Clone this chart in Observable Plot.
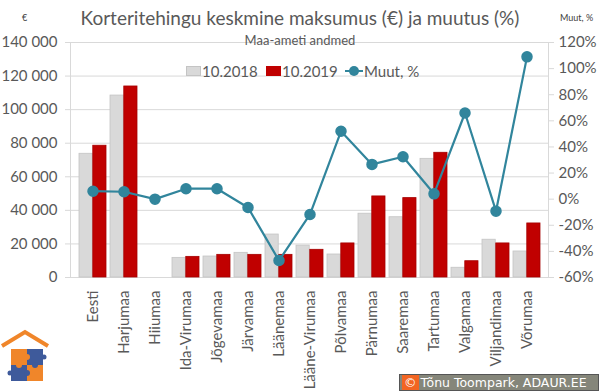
<!DOCTYPE html>
<html>
<head>
<meta charset="utf-8">
<script src="https://cdn.jsdelivr.net/npm/d3@7"></script>
<script src="https://cdn.jsdelivr.net/npm/@observablehq/plot@0.6"></script>
<style>
  html, body { margin: 0; padding: 0; background: #fff; }
  #wrap { position: relative; width: 600px; height: 392px; overflow: hidden; font-family: Lato, "Open Sans", sans-serif; color: #595959; }
  .abs { position: absolute; white-space: nowrap; }
  #wrap svg { position: absolute; left: 0; top: 0; }
</style>
</head>
<body>
<div id="wrap"></div>
<script>
const categories = ["Eesti","Harjumaa","Hiiumaa","Ida-Virumaa","Jõgevamaa","Järvamaa","Läänemaa","Lääne-Virumaa","Põlvamaa","Pärnumaa","Saaremaa","Tartumaa","Valgamaa","Viljandimaa","Võrumaa"];
const price2018 = [73700,108400,null,11700,12500,14700,25600,19000,13700,38000,35900,70700,5800,22500,15500];
const price2019 = [78500,113800,null,12300,13500,13500,13500,16500,20300,48300,47300,74300,9700,20300,32200];
const changePct = [6.1,5.7,0,8,8,-6.4,-47,-11.7,52,26.6,32.5,4.1,66,-9.2,109];
const leftTicks = [0,20000,40000,60000,80000,100000,120000,140000];
const rightTicks = [-60,-40,-20,0,20,40,60,80,100,120];
const seriesNames = ["10.2018","10.2019","Muut, %"];

const W = 600, H = 392;
const mTop = 42, mBottom = 115, mLeft = 70, mRight = 52;
const padIn = 0.135, padOut = padIn / 2;
const step = (W - mLeft - mRight) / categories.length;
const bw = step * (1 - padIn);

const rows = categories.map((c, i) => ({cat: c, a: price2018[i], b: price2019[i], ch: changePct[i]}));
const fmt = d3.formatLocale({decimal: ",", thousands: "\u00a0", grouping: [3], currency: ["", "€"]}).format(",d");

const xScale = {type: "band", domain: categories, paddingInner: padIn, paddingOuter: padOut, label: null};

const main = Plot.plot({
  width: W, height: H,
  marginTop: mTop, marginBottom: mBottom, marginLeft: mLeft, marginRight: mRight,
  style: {fontFamily: "Lato, 'Open Sans', sans-serif", background: "white"},
  x: xScale,
  y: {domain: [0, 140000], label: null},
  marks: [
    Plot.gridY(leftTicks, {stroke: "#d9d9d9", strokeOpacity: 1}),
    Plot.frame({stroke: "#d9d9d9"}),
    Plot.barY(rows.filter(d => d.a != null), {x: "cat", y: "a", fill: "#d9d9d9", stroke: "#c4c4c4", strokeWidth: 0.8, insetRight: bw / 2}),
    Plot.barY(rows.filter(d => d.b != null), {x: "cat", y: "b", fill: "#c00000", stroke: "#a50000", strokeWidth: 0.8, insetLeft: bw / 2}),
    Plot.axisY(leftTicks, {label: null, tickSize: 5, tickPadding: 8, stroke: "#d9d9d9", fill: "#595959", fontSize: 15, tickFormat: d => fmt(d)}),
    Plot.axisX({label: null, tickRotate: -90, tickSize: 0, tickPadding: 13, fill: "#595959", fontSize: 15})
  ]
});

const overlay = Plot.plot({
  width: W, height: H,
  marginTop: mTop, marginBottom: mBottom, marginLeft: mLeft, marginRight: mRight,
  style: {fontFamily: "Lato, 'Open Sans', sans-serif", background: "transparent"},
  x: {...xScale, axis: null},
  y: {domain: [-60, 120], axis: null, label: null},
  marks: [
    Plot.line(rows, {x: "cat", y: "ch", stroke: "#31859c", strokeWidth: 2.2}),
    Plot.dot(rows, {x: "cat", y: "ch", r: 5, fill: "#31859c", stroke: "#31859c"}),
    Plot.axisY(rightTicks, {anchor: "right", label: null, tickSize: 5, tickPadding: 5, stroke: "#d9d9d9", fill: "#595959", fontSize: 15, tickFormat: d => d + "%"})
  ]
});
overlay.style.background = "transparent";

const wrap = document.getElementById("wrap");
wrap.appendChild(main);
wrap.appendChild(overlay);

function addDiv(html, css) {
  const d = document.createElement("div");
  d.className = "abs";
  d.innerHTML = html;
  Object.assign(d.style, css);
  wrap.appendChild(d);
  return d;
}

// Titles
addDiv("Korteritehingu keskmine maksumus (€) ja muutus (%)", {left: "0px", width: "600px", textAlign: "center", top: "6px", fontSize: "19px", lineHeight: "24px"});
addDiv("Maa-ameti andmed", {left: "0px", width: "600px", textAlign: "center", top: "32px", fontSize: "13px", lineHeight: "16px"});
addDiv("€", {left: "22px", top: "12px", fontSize: "9px", lineHeight: "12px", color: "#404040"});
addDiv("Muut, %", {left: "560px", top: "12px", fontSize: "9px", lineHeight: "12px", color: "#404040"});

// Legend
addDiv("", {left: "186px", top: "66px", width: "15px", height: "10px", background: "#d9d9d9", border: "0.5px solid #c4c4c4", boxSizing: "border-box"});
addDiv(seriesNames[0], {left: "202px", top: "62px", fontSize: "15px", lineHeight: "18px"});
addDiv("", {left: "266px", top: "66px", width: "15px", height: "10px", background: "#c00000", boxSizing: "border-box"});
addDiv(seriesNames[1], {left: "282px", top: "62px", fontSize: "15px", lineHeight: "18px"});
addDiv("", {left: "345px", top: "70px", width: "18px", height: "2px", background: "#31859c"});
addDiv("", {left: "349px", top: "66px", width: "10px", height: "10px", borderRadius: "50%", background: "#31859c"});
addDiv(seriesNames[2], {left: "364px", top: "62px", fontSize: "15px", lineHeight: "18px"});

// Caption box
addDiv('<span style="display:inline-block;background:#f26522;color:#fff;padding:0 2px;margin-right:2px;">©</span>Tõnu Toompark, ADAUR.EE',
  {left: "399px", top: "374px", width: "196px", height: "15px", background: "#85867a", border: "1px solid #555", color: "#fff",
   fontFamily: "'DejaVu Sans', Verdana, sans-serif", fontSize: "12.5px", lineHeight: "15px", paddingLeft: "2px", overflow: "hidden"});

// Logo (decorative)
addDiv(`<svg width="52" height="60" viewBox="0 0 52 60">
  <polyline points="2,24 25,10 48,24" fill="none" stroke="#f0862a" stroke-width="4"/>
  <rect x="11" y="27" width="16" height="16" fill="#f0862a"/>
  <rect x="27" y="27" width="16" height="16" fill="#3e5a9b"/>
  <rect x="11" y="43" width="16" height="16" fill="#3e5a9b"/>
  <rect x="27" y="43" width="16" height="16" fill="#f0862a"/>
  <circle cx="27" cy="35" r="3" fill="#f0862a"/>
  <circle cx="19" cy="43" r="3" fill="#f0862a"/>
  <circle cx="35" cy="43" r="3" fill="#3e5a9b"/>
  <circle cx="27" cy="51" r="3" fill="#3e5a9b"/>
  <circle cx="44" cy="35" r="2.5" fill="#3e5a9b"/>
  <circle cx="10" cy="51" r="2.5" fill="#3e5a9b"/>
</svg>`, {left: "0px", top: "322px"});
</script>
</body>
</html>
